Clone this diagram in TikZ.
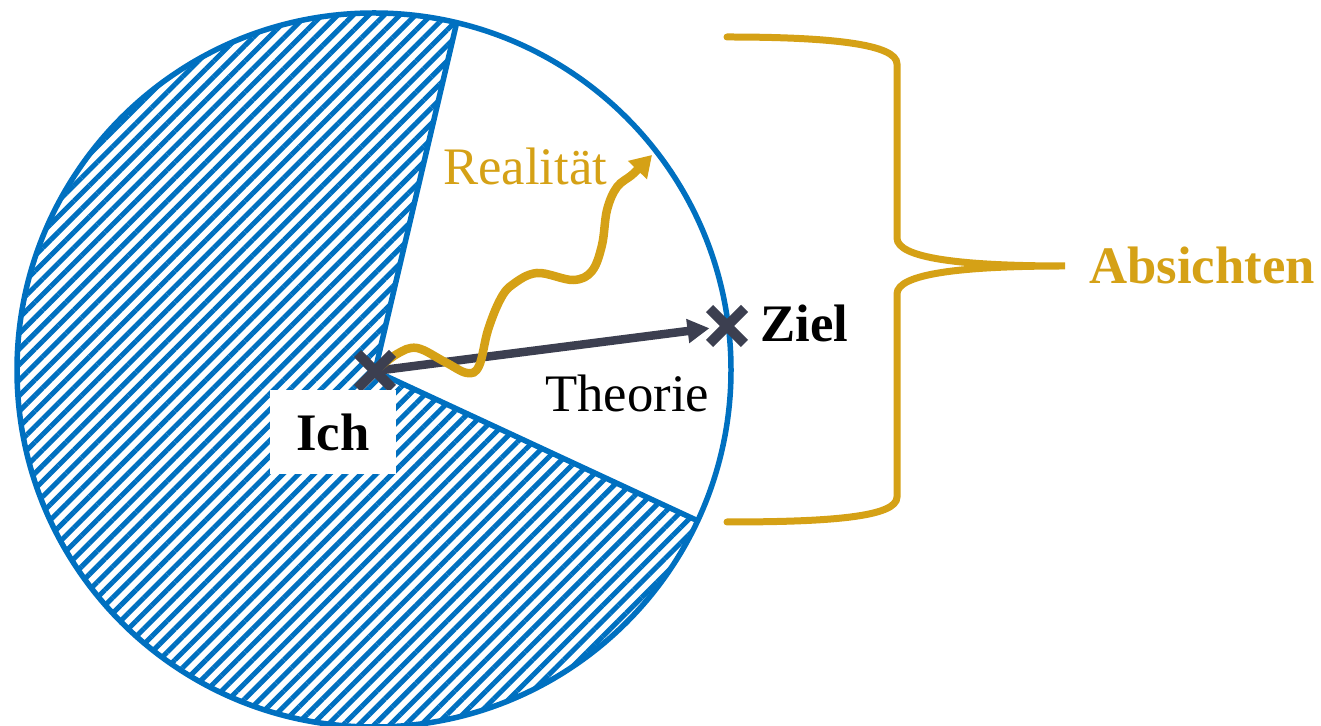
\documentclass[tikz,border=0pt]{standalone}
\usepackage{fontspec}
\setmainfont{Liberation Serif}
\usetikzlibrary{positioning}
\usetikzlibrary{arrows.meta}
\usetikzlibrary{patterns.meta}
\usetikzlibrary{shapes.misc}
\usetikzlibrary{backgrounds}
\definecolor{kreisblau}{RGB}{0,112,192}
\definecolor{gold}{RGB}{213,161,22}
\definecolor{dunkel}{RGB}{60,63,80}
\tikzset{kreuz/.style = {cross out, draw=dunkel, line width=0.2cm,
                         inner sep=0, minimum size=0.5cm}}
\tikzset{schrift/.style = {font=\fontsize{30}{36}\selectfont}}
\tikzset{schraffur/.style = {pattern={Lines[angle=45,distance=0.22cm,line width=0.1cm]},
                             pattern color=kreisblau}}

\begin{document}
\begin{tikzpicture}[x=0.02cm,y=0.02cm]
      \useasboundingbox (0,0) rectangle (1321,726);
      \coordinate (mitte) at (375,355);

      \node[kreuz] (ich) at (mitte) {};
      \node[kreuz] (ziel) at (727,400) {};
      \node[schrift,fill=white,font=\fontsize{30}{36}\selectfont\bfseries,
            minimum width=2.54cm,minimum height=1.7cm,inner sep=0] (ichtext) at (333,294) {Ich};
      \node[schrift,font=\fontsize{30}{36}\selectfont\bfseries,anchor=base west,inner sep=0]
            (zieltext) at (760,384) {Ziel};
      \node[schrift,anchor=base west,inner sep=0] (theorie) at (545,314) {Theorie};
      \node[schrift,text=gold,anchor=base west,inner sep=0] (realitaet) at (443,541) {Realität};
      \coordinate (realende) at (652,571);

      % Klammer
      \coordinate (spitze) at (1065,460);
      \draw[gold,line width=0.14cm,line cap=round]
        (727,689) .. controls (830,689) and (897,682) .. (897,662) -- (897,488)
        .. controls (897,468) and (960,460) .. (spitze)
        .. controls (960,460) and (897,452) .. (897,432) -- (897,229)
        .. controls (897,209) and (830,204) .. (727,204);
      \node[schrift,text=gold,font=\fontsize{30}{36}\selectfont\bfseries,anchor=base west,inner sep=0]
            (absichten) at (1089,442) {Absichten};

      \begin{scope}[on background layer]
        \fill[schraffur] (mitte) -- ++(76.8:357) arc[start angle=76.8,end angle=335.1,radius=357] -- cycle;
        \draw[kreisblau,line width=0.11cm] (mitte) -- ++(76.8:357);
        \draw[kreisblau,line width=0.11cm] (mitte) -- ++(-24.9:357);
        \draw[kreisblau,line width=0.11cm] (374,356) circle[radius=357];
        \draw[dunkel,line width=0.17cm,-{Triangle[length=0.44cm,width=0.46cm]}] (ich.center) -- (ziel);
        \draw[gold,line width=0.17cm,-{Triangle[length=0.42cm,width=0.5cm]}]
          plot[smooth,tension=0.6] coordinates {(ich.center) (397,372) (417,378) (445,364) (467,353)
            (479,360) (488,396) (500,426) (512,441) (537,453) (573,446) (592,455) (602,481)
            (607,516) (617,539) (633,552) (realende)};
      \end{scope}
    \end{tikzpicture}
\end{document}
